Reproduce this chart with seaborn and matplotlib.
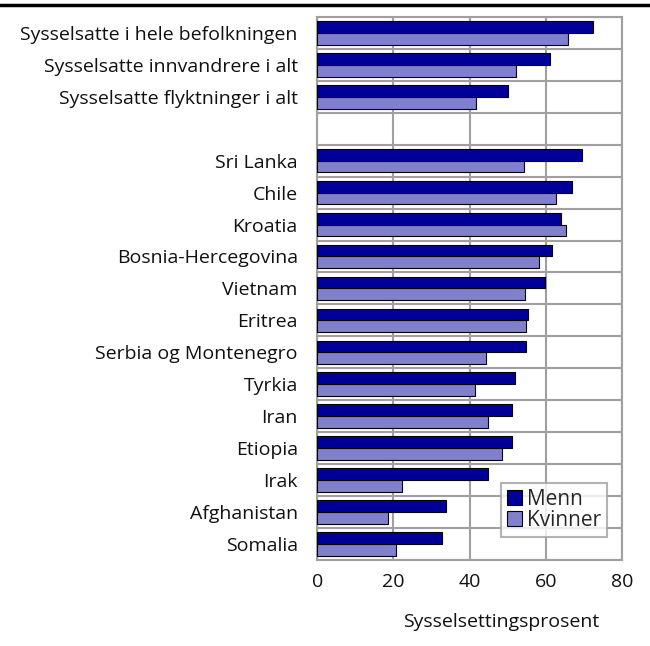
#!/usr/bin/env python3
# plot: sysselsettingsprosent etter kjonn

import pandas as pd
import seaborn as sns
import matplotlib.pyplot as plt
from matplotlib.lines import Line2D


# Data =========================================================================

categories = [
    'Sysselsatte i hele befolkningen',
    'Sysselsatte innvandrere i alt',
    'Sysselsatte flyktninger i alt',
    ' ',
    'Sri Lanka',
    'Chile',
    'Kroatia',
    'Bosnia-Hercegovina',
    'Vietnam',
    'Eritrea',
    'Serbia og Montenegro',
    'Tyrkia',
    'Iran',
    'Etiopia',
    'Irak',
    'Afghanistan',
    'Somalia',
]
menn = [72.5, 61.1, 50.0, None, 69.5, 66.9, 64.0, 61.7, 59.7, 55.3, 54.8,
        51.9, 51.2, 51.0, 44.7, 33.9, 32.8]
kvinner = [65.9, 52.1, 41.7, None, 54.3, 62.6, 65.2, 58.2, 54.5, 54.7, 44.4,
           41.5, 44.9, 48.4, 22.3, 18.6, 20.8]
series = ['Menn', 'Kvinner']
colors = ['#000099', '#8080cc']


def main():
    sns.set_theme(style='white')
    plt.rcParams['font.family'] = ['Open Sans', 'DejaVu Sans']
    fs = 14

    rows = []
    for cat, m, k in zip(categories, menn, kvinner):
        if m is None:
            continue
        rows.append({'Kategori': cat, 'Kjonn': 'Menn', 'Prosent': m})
        rows.append({'Kategori': cat, 'Kjonn': 'Kvinner', 'Prosent': k})
    df = pd.DataFrame(rows)

    fig = plt.figure(figsize=(6.5, 6.46), dpi=100)
    ax = fig.add_axes([0.488, 0.133, 0.469, 0.841])

    sns.barplot(
        data=df, y='Kategori', x='Prosent', hue='Kjonn',
        order=categories, hue_order=series, palette=colors,
        orient='h', width=0.74, edgecolor='black', linewidth=0.8,
        saturation=1, ax=ax, legend=False, zorder=3,
    )

    grid = '#a0a0a0'
    n = len(categories)
    ax.set_xlim(0, 80)
    ax.set_ylim(n - 0.5, -0.5)
    ax.set_xticks([0, 20, 40, 60, 80])
    ax.set_yticks(range(n))
    ax.set_yticklabels(categories, fontsize=fs, color='#111111')
    ax.set_yticks([i - 0.5 for i in range(n + 1)], minor=True)
    ax.tick_params(axis='y', which='major', length=0, pad=14)
    ax.tick_params(axis='y', which='minor', length=5, width=1.5, color=grid,
                   direction='out')
    ax.tick_params(axis='x', length=5, width=1.5, color=grid, direction='out',
                   labelsize=fs, pad=4, labelcolor='#111111')
    ax.grid(axis='x', color=grid, linewidth=1.5, zorder=0)
    ax.grid(axis='y', which='minor', color=grid, linewidth=1.5, zorder=0)
    ax.set_axisbelow(True)
    for s in ax.spines.values():
        s.set_color(grid)
        s.set_linewidth(1.5)
        s.set_visible(True)

    ax.set_ylabel('')
    ax.set_xlabel('Sysselsettingsprosent', fontsize=fs, color='#111111')
    ax.xaxis.set_label_coords(0.603, -0.097)

    handles = [plt.Rectangle((0, 0), 1, 1, facecolor=c, edgecolor='black',
                             linewidth=0.8) for c in colors]
    leg = ax.legend(handles, series, loc='lower right',
                    bbox_to_anchor=(0.951, 0.042), fontsize=15,
                    frameon=True, fancybox=False, handlelength=0.7,
                    handleheight=0.7, handletextpad=0.25, borderpad=0.3,
                    labelspacing=0.0, borderaxespad=0)
    leg.get_frame().set_edgecolor(grid)
    leg.get_frame().set_linewidth(1.5)

    fig.add_artist(Line2D([0, 1], [0.992, 0.992], color='black',
                          linewidth=2.5, transform=fig.transFigure))

    fig.savefig('out.png', dpi=100)


if __name__ == '__main__':
    main()
